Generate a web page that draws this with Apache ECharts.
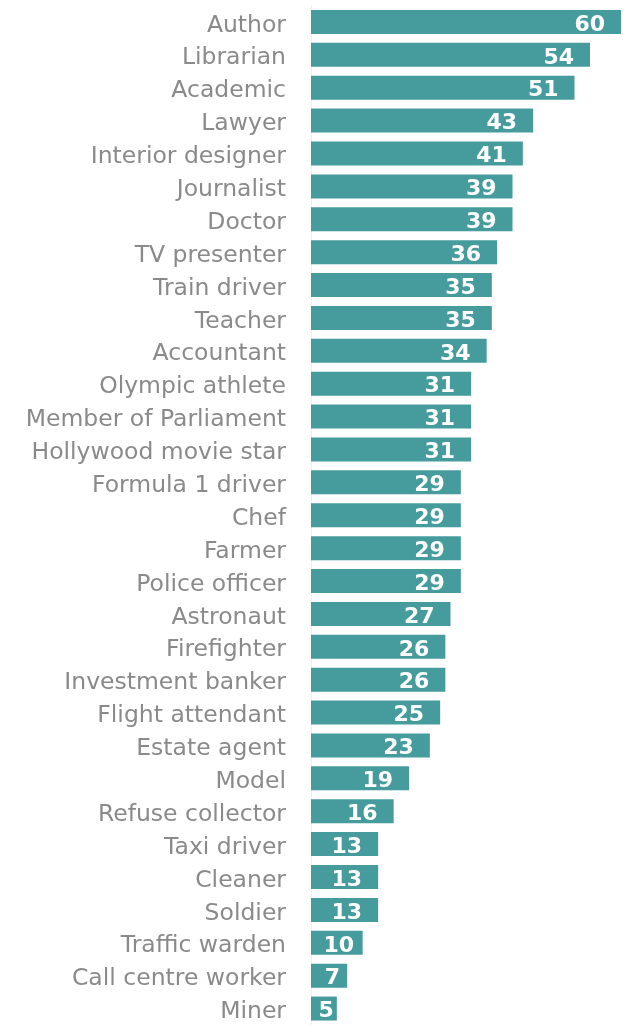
<!DOCTYPE html>
<html><head><meta charset="utf-8">
<script src="https://cdn.jsdelivr.net/npm/echarts@6/dist/echarts.min.js"></script>
<style>html,body{margin:0;padding:0;background:#fff}#c{width:623px;height:1025px}</style>
</head><body><div id="c"></div>
<script>
const categories = ["Author","Librarian","Academic","Lawyer","Interior designer","Journalist","Doctor","TV presenter","Train driver","Teacher","Accountant","Olympic athlete","Member of Parliament","Hollywood movie star","Formula 1 driver","Chef","Farmer","Police officer","Astronaut","Firefighter","Investment banker","Flight attendant","Estate agent","Model","Refuse collector","Taxi driver","Cleaner","Soldier","Traffic warden","Call centre worker","Miner"];
const values = [60,54,51,43,41,39,39,36,35,35,34,31,31,31,29,29,29,29,27,26,26,25,23,19,16,13,13,13,10,7,5];

const GRID_LEFT = 311, GRID_RIGHT = 2, XMAX = 60;
const plotW = 623 - GRID_LEFT - GRID_RIGHT;
// label distance shrinks for short bars so the number stays inside the bar
const seriesData = values.map(v => {
  const w = v / XMAX * plotW;
  const tw = String(v).length * 14;
  const d = Math.max(3, Math.min(16, w - tw - 15));
  return {value: v, label: {distance: d}};
});

const chart = echarts.init(document.getElementById('c'), null, {renderer:'canvas'});
chart.setOption({
  animation:false,
  grid:{left:GRID_LEFT, right:GRID_RIGHT, top:5.5, height:1023, containLabel:false},
  xAxis:{type:'value', min:0, max:XMAX, show:false},
  yAxis:{type:'category', data:categories, inverse:true,
    axisLine:{show:true, lineStyle:{color:'#eeeeee', width:1}},
    axisTick:{show:false},
    axisLabel:{color:'#8a8a8a', fontFamily:'DejaVu Sans', fontWeight:'normal', fontSize:23.5, margin:25,
      verticalAlign:'top', lineHeight:7}
  },
  series:[{type:'bar', data:seriesData, barCategoryGap:'27%',
    itemStyle:{color:'#469c9c'},
    label:{show:true, position:'insideRight', offset:[0,3], color:'#ffffff',
      fontFamily:'DejaVu Sans', fontWeight:'bold', fontSize:22}
  }]
});
</script></body></html>
